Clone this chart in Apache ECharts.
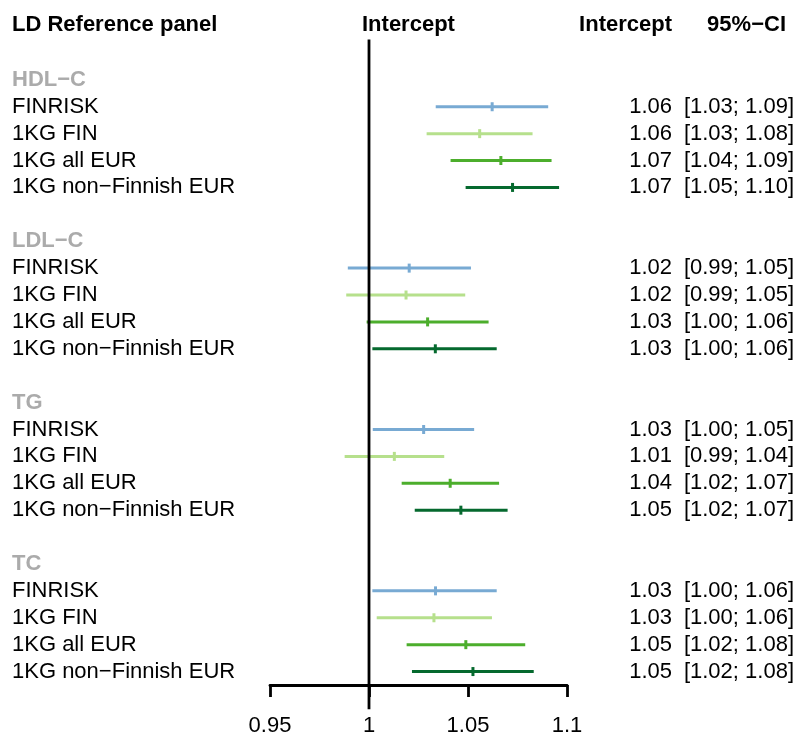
<!DOCTYPE html>
<html>
<head>
<meta charset="utf-8">
<script src="https://cdn.jsdelivr.net/npm/echarts@6/dist/echarts.min.js"></script>
<style>
  html, body { margin: 0; padding: 0; background: #ffffff; }
  #chart { width: 799px; height: 738px; }
</style>
</head>
<body>
<div id="chart"></div>
<script>
// Lipid traits and the LD reference panels compared within each trait
const traits = ['HDL−C', 'LDL−C', 'TG', 'TC'];
const panels = ['FINRISK', '1KG FIN', '1KG all EUR', '1KG non−Finnish EUR'];
const axisTicks = [0.95, 1, 1.05, 1.1];
const nullEffect = 1;

// LD score regression intercepts with 95% confidence limits, per panel
const hdlEst   = [1.0622, 1.0559, 1.0666, 1.0725];
const hdlLower = [1.0337, 1.0291, 1.0412, 1.0488];
const hdlUpper = [1.0905, 1.0826, 1.0922, 1.0960];

const ldlEst   = [1.0203, 1.0187, 1.0296, 1.0335];
const ldlLower = [0.9893, 0.9885, 0.9988, 1.0017];
const ldlUpper = [1.0515, 1.0486, 1.0604, 1.0645];

const tgEst    = [1.0276, 1.0128, 1.0410, 1.0464];
const tgLower  = [1.0019, 0.9877, 1.0165, 1.0231];
const tgUpper  = [1.0531, 1.0380, 1.0657, 1.0700];

const tcEst    = [1.0336, 1.0328, 1.0489, 1.0525];
const tcLower  = [1.0017, 1.0039, 1.0190, 1.0217];
const tcUpper  = [1.0645, 1.0621, 1.0789, 1.0832];

const panelColors = ['#78AAD3', '#B6E08C', '#4CAE2C', '#05692E'];
const FONT = '"Liberation Sans", Arial, Helvetica, sans-serif';

const estByTrait   = [hdlEst, ldlEst, tgEst, tcEst];
const lowerByTrait = [hdlLower, ldlLower, tgLower, tcLower];
const upperByTrait = [hdlUpper, ldlUpper, tgUpper, tcUpper];

const fmt = v => (Math.round(v * 100) / 100).toFixed(2);

// Each trait block: a heading row, one row per panel, then a spacer row
const ciData = [];
const textRows = [];
traits.forEach((trait, g) => {
  const base = g * (panels.length + 2);
  textRows.push({ row: base, label: trait, est: '', ci: '', heading: true });
  panels.forEach((panel, i) => {
    const row = base + 1 + i;
    const est = estByTrait[g][i], lo = lowerByTrait[g][i], hi = upperByTrait[g][i];
    ciData.push([lo, hi, est, row, i]);
    textRows.push({ row, label: panel, est: fmt(est), ci: '[' + fmt(lo) + '; ' + fmt(hi) + ']', heading: false });
  });
});
const lastRow = (traits.length - 1) * (panels.length + 2) + panels.length;

const chart = echarts.init(document.getElementById('chart'), null, { renderer: 'canvas' });

chart.setOption({
  backgroundColor: '#ffffff',
  animation: false,
  grid: { left: 270, right: 232, top: 39.5, bottom: 53, containLabel: false },
  xAxis: {
    type: 'value',
    min: axisTicks[0],
    max: axisTicks[axisTicks.length - 1],
    interval: 0.05,
    axisLine: { show: true, onZero: false, lineStyle: { color: '#000', width: 2.8 } },
    axisTick: { show: true, length: 12, lineStyle: { color: '#000', width: 2.8 } },
    axisLabel: {
      show: true, margin: 30, color: '#000', fontSize: 22, fontFamily: FONT,
      showMinLabel: true, showMaxLabel: true,
      formatter: v => String(+v.toFixed(2))
    },
    splitLine: { show: false }
  },
  yAxis: {
    type: 'value', inverse: true, min: -1.5, max: lastRow + 0.5, show: false
  },
  graphic: [
    { type: 'text', left: 12, top: 14, style: { text: 'LD Reference panel', font: 'bold 22px ' + FONT, fill: '#000' } },
    { type: 'text', left: 362, top: 14, style: { text: 'Intercept', font: 'bold 22px ' + FONT, fill: '#000' } },
    { type: 'text', right: 127, top: 14, style: { text: 'Intercept', font: 'bold 22px ' + FONT, fill: '#000' } },
    { type: 'text', right: 13, top: 14, style: { text: '95%−CI', font: 'bold 22px ' + FONT, fill: '#000' } }
  ],
  series: [
    {
      // confidence interval segments with a short vertical mark at the estimate
      type: 'custom',
      z: 2,
      data: ciData,
      encode: { x: [0, 1, 2], y: 3 },
      renderItem(params, api) {
        const row = api.value(3);
        const lo = api.coord([api.value(0), row]);
        const hi = api.coord([api.value(1), row]);
        const mid = api.coord([api.value(2), row]);
        const color = panelColors[api.value(4)];
        return {
          type: 'group',
          children: [
            { type: 'line', shape: { x1: lo[0], y1: lo[1], x2: hi[0], y2: hi[1] },
              style: { stroke: color, lineWidth: 3 } },
            { type: 'line', shape: { x1: mid[0], y1: mid[1] - 4.5, x2: mid[0], y2: mid[1] + 4.5 },
              style: { stroke: color, lineWidth: 3 } }
          ]
        };
      }
    },
    {
      // line of no effect
      type: 'line',
      z: 3,
      clip: false,
      symbol: 'none',
      silent: true,
      data: [[nullEffect, -1.5], [nullEffect, lastRow + 1.4]],
      lineStyle: { color: '#000', width: 2.8 }
    },
    {
      // row labels, estimates and interval text
      type: 'custom',
      z: 4,
      data: textRows.map(t => [t.row]),
      encode: { y: 0 },
      renderItem(params, api) {
        const t = textRows[params.dataIndex];
        const y = api.coord([nullEffect, api.value(0)])[1];
        const children = [{
          type: 'text',
          style: {
            text: t.label, x: 12, y: y, align: 'left', verticalAlign: 'middle',
            font: (t.heading ? 'bold ' : '') + '22px ' + FONT,
            fill: t.heading ? '#ABABAB' : '#000'
          }
        }];
        if (!t.heading) {
          children.push({
            type: 'text',
            style: { text: t.est, x: 672, y: y, align: 'right', verticalAlign: 'middle',
                     font: '22px ' + FONT, fill: '#000' }
          });
          children.push({
            type: 'text',
            style: { text: t.ci, x: 794, y: y, align: 'right', verticalAlign: 'middle',
                     font: '22px ' + FONT, fill: '#000' }
          });
        }
        return { type: 'group', children };
      }
    }
  ]
});
</script>
</body>
</html>
